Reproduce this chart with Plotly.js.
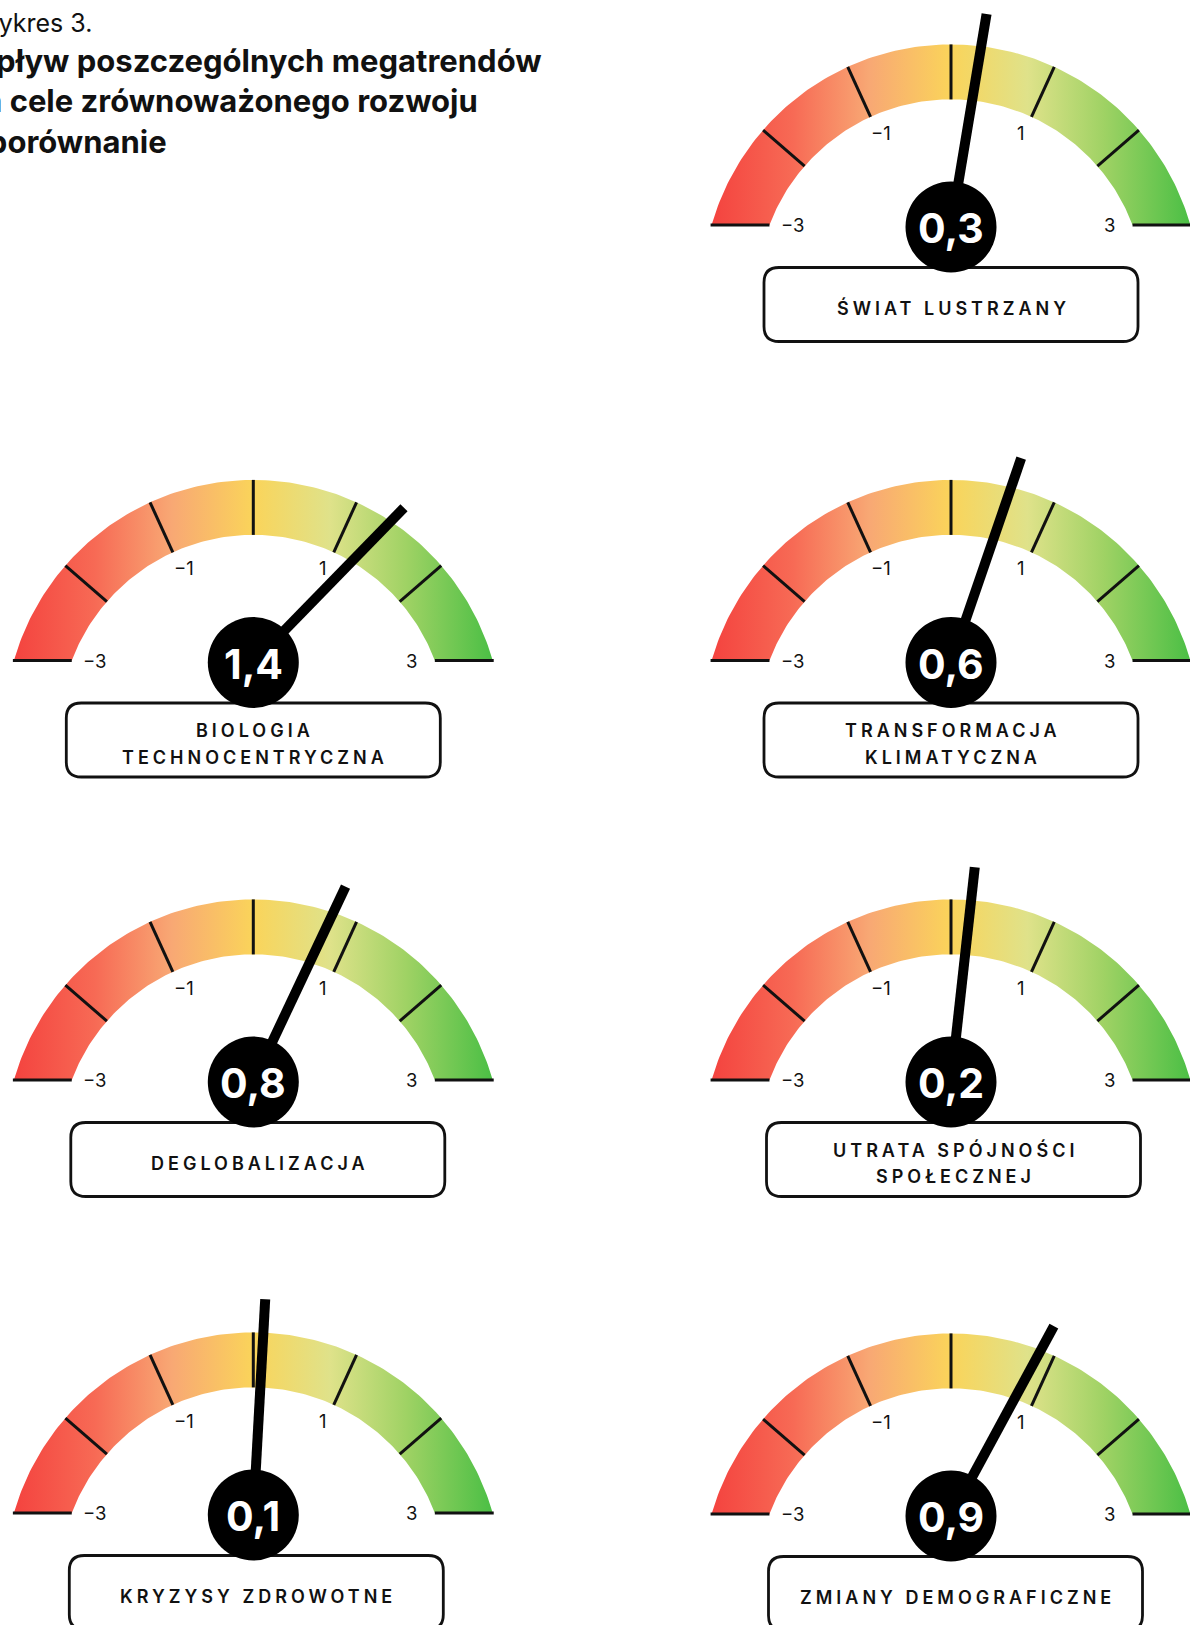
<!DOCTYPE html>
<html>
<head>
<meta charset="utf-8">
<script src="https://cdn.plot.ly/plotly-3.0.1.min.js"></script>
<style>
  html, body { margin: 0; padding: 0; background: #ffffff; }
  #chart { width: 1190px; height: 1625px; }
</style>
</head>
<body>
<div id="chart"></div>
<script>
// ---------------- DATA ----------------
const titleSmall = 'Wykres 3.';
const titleMain = 'Wpływ poszczególnych megatrendów<br>na cele zrównoważonego rozwoju<br>– porównanie';

const categories = [
  'ŚWIAT LUSTRZANY',
  'BIOLOGIA<br>TECHNOCENTRYCZNA',
  'TRANSFORMACJA<br>KLIMATYCZNA',
  'DEGLOBALIZACJA',
  'UTRATA SPÓJNOŚCI<br>SPOŁECZNEJ',
  'KRYZYSY ZDROWOTNE',
  'ZMIANY DEMOGRAFICZNE'
];
const values = [0.3, 1.4, 0.6, 0.8, 0.2, 0.1, 0.9];

const scaleTicks = [-3, -2, -1, 0, 1, 2, 3];
const scaleTickLabels = ['−3', '', '−1', '', '1', '', '3'];

// ---------------- LAYOUT / STYLE ----------------
const W = 1190, H = 1625;
const gaugeCenters = [[951, 225], [253.3, 660.5], [951, 660.5], [253.3, 1080], [951, 1080], [253.3, 1513], [951, 1514]];
const boxShift = [0, 0, 0, 4.5, 2.5, 3, 4.5];
const R_OUT = 249, R_IN = 194, C_OFF = 68.4;
const TICK_DEG = 24.5, NEEDLE_DEG = 31.6, NEEDLE_LEN = 216, HUB_R = 45.5;
const BOX_HALF_W = 187, BOX_TOP = 42.5, BOX_BOTTOM = 116.5, BOX_R = 15;
const INK = '#111111';
const gaugeColorscale = [
  [0.00, '#f4433f'],
  [0.17, '#f76a55'],
  [0.33, '#f8a874'],
  [0.50, '#fad45a'],
  [0.66, '#dfe28a'],
  [0.82, '#9fd264'],
  [1.00, '#4bbf45']
];
const FONT = 'Inter, "Open Sans", sans-serif';

const rad = d => d * Math.PI / 180;
const traces = [], shapes = [], annotations = [];
const spacedIdx = [];

gaugeCenters.forEach(([cx, cy], i) => {
  const oy = cy + C_OFF;
  const phiO = Math.acos(C_OFF / R_OUT) * 180 / Math.PI;
  const phiI = Math.acos(C_OFF / R_IN) * 180 / Math.PI;
  const xs = [], ys = [];
  const N = 160;
  for (let k = 0; k <= N; k++) {
    const p = -phiO + 2 * phiO * k / N;
    xs.push(cx + R_OUT * Math.sin(rad(p)));
    ys.push(oy - R_OUT * Math.cos(rad(p)));
  }
  for (let k = 0; k <= N; k++) {
    const p = phiI - 2 * phiI * k / N;
    xs.push(cx + R_IN * Math.sin(rad(p)));
    ys.push(oy - R_IN * Math.cos(rad(p)));
  }
  const xmin = Math.min(...xs), xmax = Math.max(...xs);
  traces.push({
    type: 'scatter', mode: 'lines', x: xs, y: ys, fill: 'toself',
    line: { width: 0, color: 'rgba(0,0,0,0)' },
    fillgradient: { type: 'horizontal', colorscale: gaugeColorscale, start: xmin, stop: xmax },
    hoverinfo: 'skip', showlegend: false
  });

  // scale ticks + labels
  const halfIn = Math.sqrt(R_IN * R_IN - C_OFF * C_OFF);
  const halfOut = Math.sqrt(R_OUT * R_OUT - C_OFF * C_OFF);
  scaleTicks.forEach((v, j) => {
    if (Math.abs(v) === 3) {
      const s = Math.sign(v);
      shapes.push({ type: 'line', x0: cx + s * halfIn, x1: cx + s * (halfOut + 1), y0: cy, y1: cy, line: { color: INK, width: 3 } });
    } else {
      const p = rad(TICK_DEG * v);
      shapes.push({ type: 'line',
        x0: cx + R_IN * Math.sin(p), y0: oy - R_IN * Math.cos(p),
        x1: cx + R_OUT * Math.sin(p), y1: oy - R_OUT * Math.cos(p),
        line: { color: INK, width: 3 } });
    }
    if (scaleTickLabels[j]) {
      let lx, ly;
      if (Math.abs(v) === 3) { lx = cx + Math.sign(v) * (halfIn - 23); ly = cy; }
      else { const p = rad(23.5 * v); lx = cx + 175 * Math.sin(p); ly = oy - 175 * Math.cos(p); }
      annotations.push({ x: lx, y: ly, xref: 'x', yref: 'y', text: scaleTickLabels[j], showarrow: false,
        xanchor: 'center', yanchor: 'middle', font: { family: FONT, size: 18.5, color: INK } });
    }
  });

  // needle
  const px = cx, py = cy + 2;
  const th = rad(NEEDLE_DEG * values[i]);
  shapes.push({ type: 'line', x0: px, y0: py, x1: px + NEEDLE_LEN * Math.sin(th), y1: py - NEEDLE_LEN * Math.cos(th),
    line: { color: '#000000', width: 10 } });

  // label box
  const bx = cx + boxShift[i];
  const x0 = bx - BOX_HALF_W, x1 = bx + BOX_HALF_W, y0 = cy + BOX_TOP, y1 = cy + BOX_BOTTOM, r = BOX_R;
  const path = `M${x0 + r},${y0} H${x1 - r} Q${x1},${y0} ${x1},${y0 + r} V${y1 - r} Q${x1},${y1} ${x1 - r},${y1} H${x0 + r} Q${x0},${y1} ${x0},${y1 - r} V${y0 + r} Q${x0},${y0} ${x0 + r},${y0} Z`;
  shapes.push({ type: 'path', path: path, fillcolor: '#ffffff', line: { color: INK, width: 2.8 } });

  // hub circle
  shapes.push({ type: 'circle', x0: px - HUB_R, x1: px + HUB_R, y0: py - HUB_R, y1: py + HUB_R,
    fillcolor: '#000000', line: { width: 0 } });

  // value text
  annotations.push({ x: px, y: cy + 3, xref: 'x', yref: 'y', text: values[i].toFixed(1).replace('.', ','),
    showarrow: false, xanchor: 'center', yanchor: 'middle',
    font: { family: FONT, size: 41, color: '#ffffff', weight: 700 } });

  // category label lines
  const lines = categories[i].split('<br>');
  lines.forEach((ln, j) => {
    spacedIdx.push(annotations.length);
    annotations.push({ x: bx + 2, y: cy + 83 + (j - (lines.length - 1) / 2) * 27, xref: 'x', yref: 'y', text: ln,
      showarrow: false, xanchor: 'center', yanchor: 'middle',
      font: { family: FONT, size: 18, color: INK, weight: 600 } });
  });
});

// titles (paper coordinates so they may start left of the page edge, as in the source)
annotations.push({ x: -28 / W, y: 1 - 23 / H, xref: 'paper', yref: 'paper', text: titleSmall, showarrow: false,
  xanchor: 'left', yanchor: 'middle', align: 'left', font: { family: FONT, size: 25, color: INK } });
annotations.push({ x: -37 / W, y: 1 - 101 / H, xref: 'paper', yref: 'paper', text: titleMain, showarrow: false,
  xanchor: 'left', yanchor: 'middle', align: 'left', font: { family: FONT, size: 31, color: INK, weight: 700 } });

const layout = {
  width: W, height: H,
  margin: { l: 0, r: 0, t: 0, b: 0 },
  paper_bgcolor: '#ffffff', plot_bgcolor: '#ffffff',
  xaxis: { range: [0, W], visible: false, fixedrange: true },
  yaxis: { range: [H, 0], visible: false, fixedrange: true },
  showlegend: false, hovermode: false,
  shapes: shapes, annotations: annotations
};

Plotly.newPlot('chart', traces, layout, { staticPlot: true, displayModeBar: false }).then(() => {
  document.querySelectorAll('#chart g.annotation').forEach(g => {
    const idx = +g.getAttribute('data-index');
    if (spacedIdx.includes(idx)) {
      g.querySelectorAll('text').forEach(t => { t.style.letterSpacing = '4px'; });
    }
  });
});
</script>
</body>
</html>
